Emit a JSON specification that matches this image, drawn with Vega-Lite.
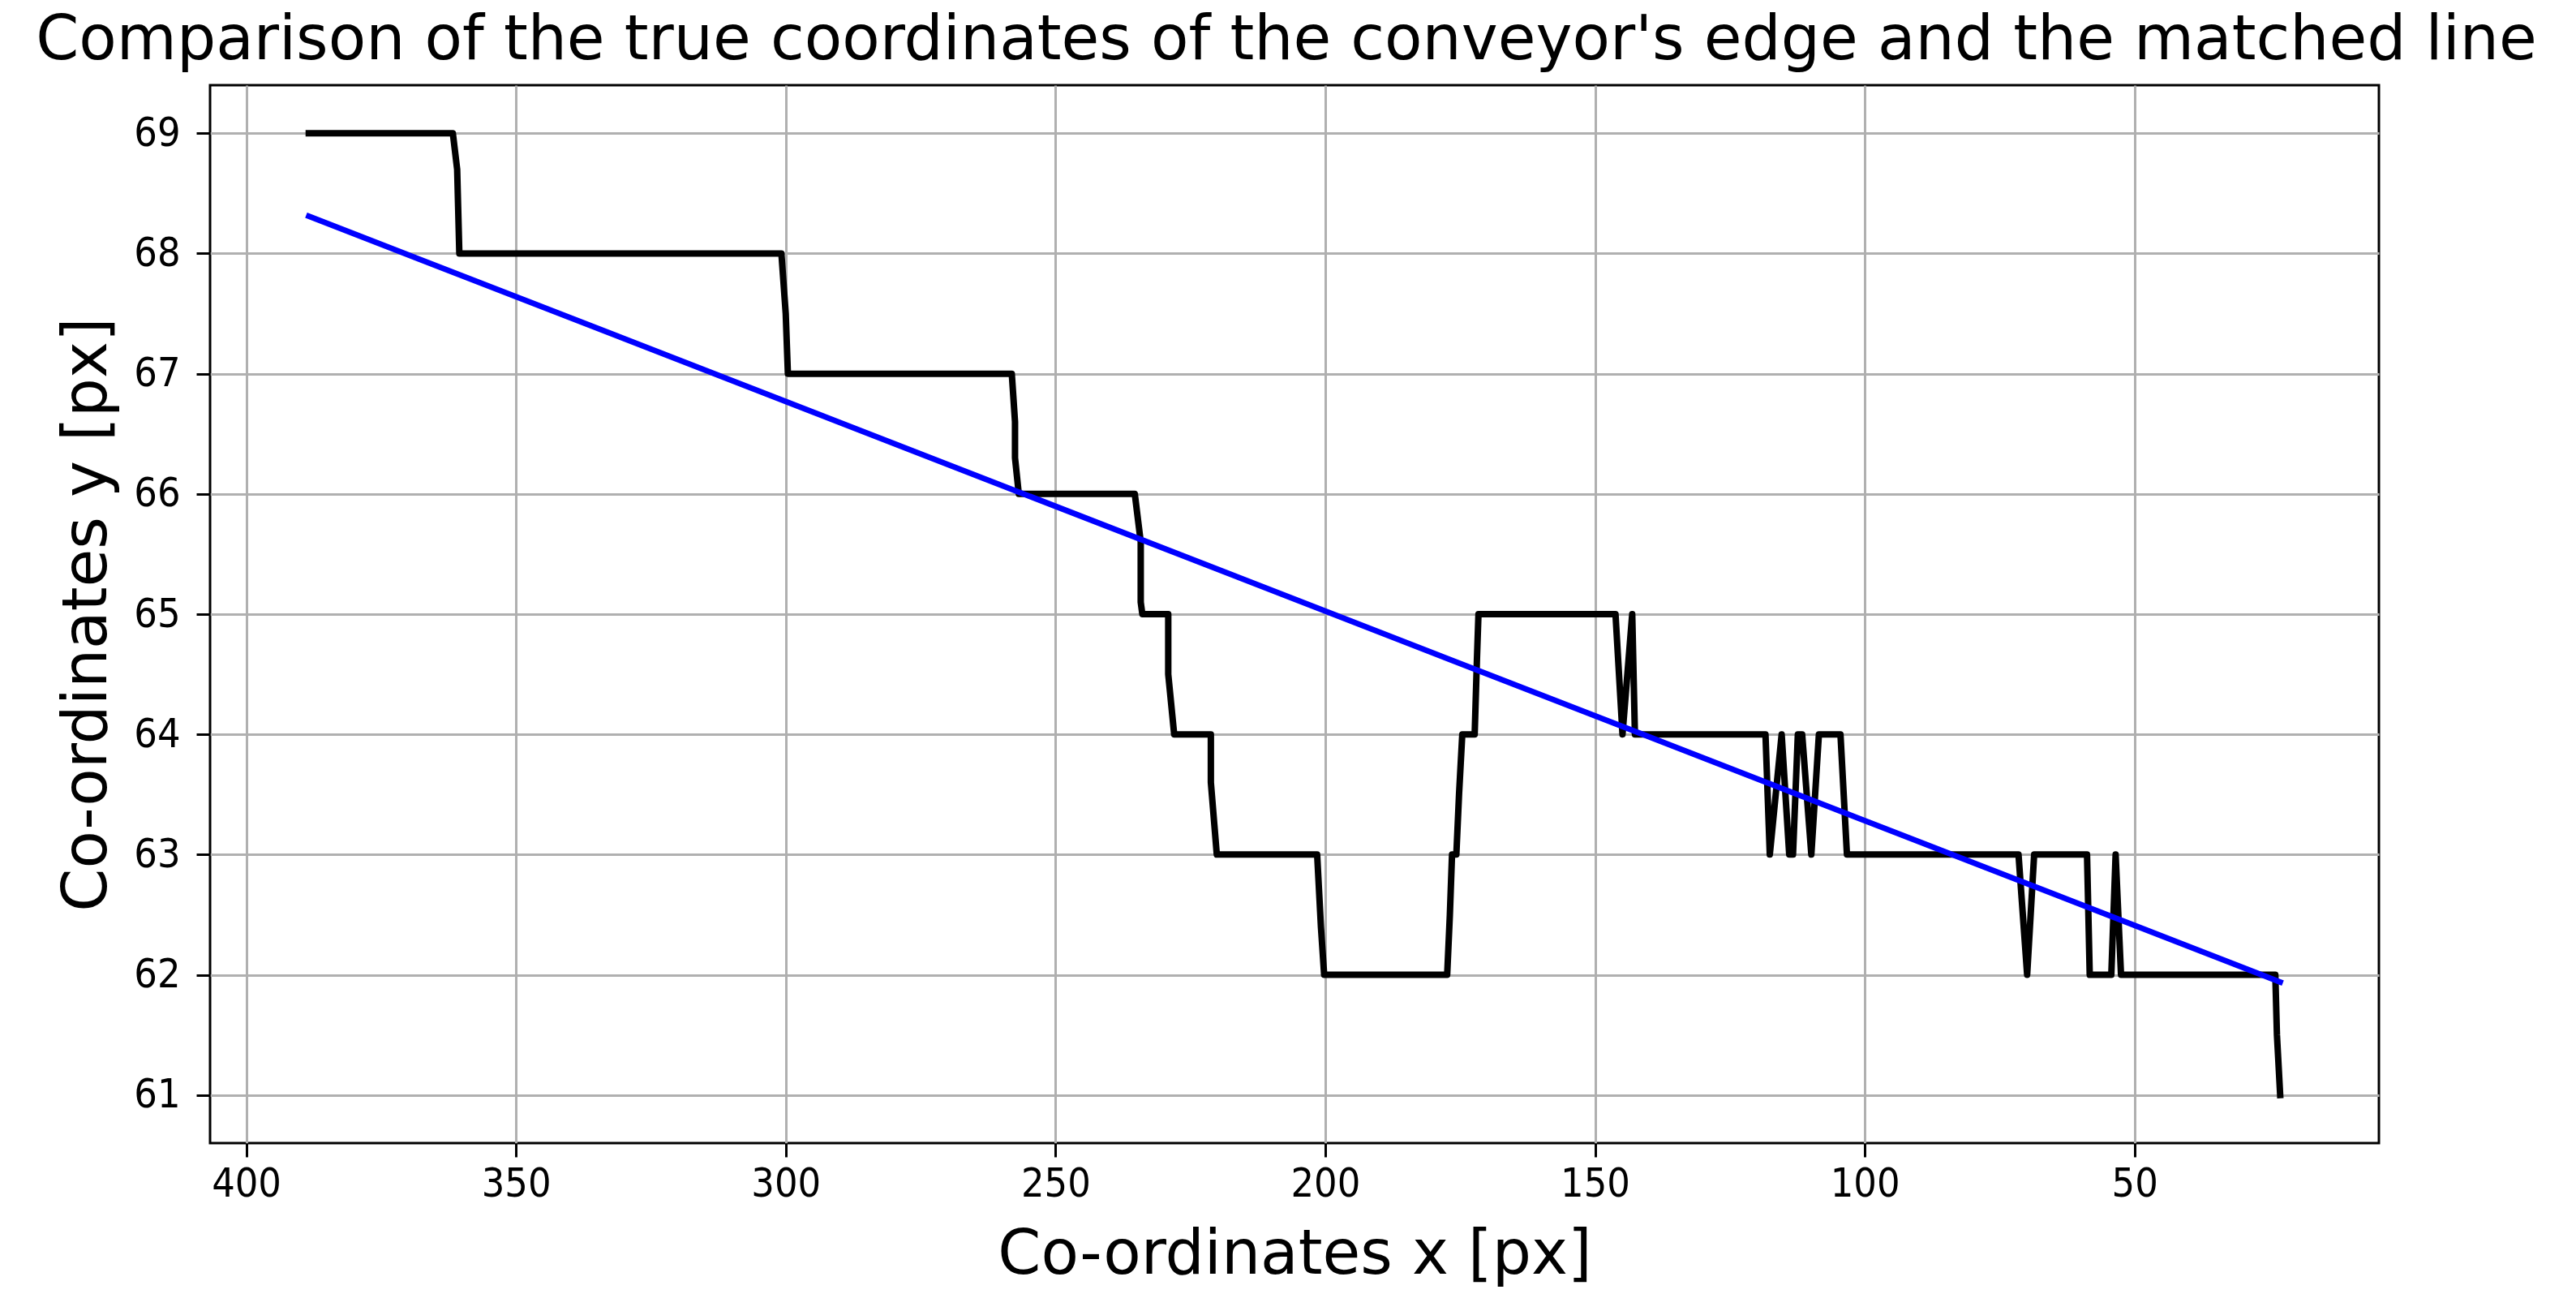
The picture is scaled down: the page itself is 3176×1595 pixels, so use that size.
{
  "$schema": "https://vega.github.io/schema/vega-lite/v6.json",
  "width": 2674,
  "height": 1304,
  "autosize": {"type": "none"},
  "padding": {"left": 259, "top": 105, "right": 243, "bottom": 186},
  "background": "white",
  "title": {
    "text": "Comparison of the true coordinates of the conveyor's edge and the matched line",
    "font": "DejaVu Sans",
    "fontSize": 76,
    "fontWeight": "normal",
    "color": "black",
    "anchor": "middle",
    "baseline": "alphabetic",
    "offset": -44,
    "frame": "group",
    "dx": -10
  },
  "config": {
    "view": {"stroke": "black", "strokeWidth": 3},
    "axis": {
      "domain": false,
      "grid": true,
      "gridColor": "#b0b0b0",
      "gridWidth": 3,
      "tickColor": "black",
      "tickWidth": 3,
      "tickSize": 17,
      "labelFont": "DejaVu Sans Condensed, DejaVu Sans",
      "labelFontSize": 50,
      "labelColor": "black",
      "titleFont": "DejaVu Sans",
      "titleFontSize": 76,
      "titleFontWeight": "normal",
      "titleColor": "black"
    }
  },
  "datasets": {
    "edge": [
      {"i": 1, "x": 388.4, "y": 69},
      {"i": 2, "x": 361.7, "y": 69},
      {"i": 3, "x": 360.9, "y": 68.7},
      {"i": 4, "x": 360.5, "y": 68},
      {"i": 5, "x": 300.8, "y": 68},
      {"i": 6, "x": 300.0, "y": 67.5},
      {"i": 7, "x": 299.6, "y": 67},
      {"i": 8, "x": 258.1, "y": 67},
      {"i": 9, "x": 257.5, "y": 66.6},
      {"i": 10, "x": 257.5, "y": 66.3},
      {"i": 11, "x": 256.8, "y": 66},
      {"i": 12, "x": 235.3, "y": 66},
      {"i": 13, "x": 234.2, "y": 65.6},
      {"i": 14, "x": 234.2, "y": 65.1},
      {"i": 15, "x": 233.9, "y": 65},
      {"i": 16, "x": 229.1, "y": 65},
      {"i": 17, "x": 229.1, "y": 64.5},
      {"i": 18, "x": 228.0, "y": 64},
      {"i": 19, "x": 221.2, "y": 64},
      {"i": 20, "x": 221.2, "y": 63.6},
      {"i": 21, "x": 220.1, "y": 63},
      {"i": 22, "x": 201.5, "y": 63},
      {"i": 23, "x": 200.8, "y": 62.4},
      {"i": 24, "x": 200.2, "y": 62},
      {"i": 25, "x": 177.4, "y": 62},
      {"i": 26, "x": 176.9, "y": 62.5},
      {"i": 27, "x": 176.5, "y": 63},
      {"i": 28, "x": 175.7, "y": 63},
      {"i": 29, "x": 175.2, "y": 63.5},
      {"i": 30, "x": 174.6, "y": 64},
      {"i": 31, "x": 172.3, "y": 64},
      {"i": 32, "x": 171.9, "y": 64.6},
      {"i": 33, "x": 171.6, "y": 65},
      {"i": 34, "x": 146.2, "y": 65},
      {"i": 35, "x": 144.9, "y": 64},
      {"i": 36, "x": 143.1, "y": 65},
      {"i": 37, "x": 142.6, "y": 64},
      {"i": 38, "x": 118.4, "y": 64},
      {"i": 39, "x": 117.6, "y": 63},
      {"i": 40, "x": 115.4, "y": 64},
      {"i": 41, "x": 114.0, "y": 63},
      {"i": 42, "x": 113.3, "y": 63},
      {"i": 43, "x": 112.4, "y": 64},
      {"i": 44, "x": 111.6, "y": 64},
      {"i": 45, "x": 109.9, "y": 63},
      {"i": 46, "x": 108.5, "y": 64},
      {"i": 47, "x": 104.5, "y": 64},
      {"i": 48, "x": 103.3, "y": 63},
      {"i": 49, "x": 71.5, "y": 63},
      {"i": 50, "x": 69.9, "y": 62},
      {"i": 51, "x": 68.6, "y": 63},
      {"i": 52, "x": 58.8, "y": 63},
      {"i": 53, "x": 58.3, "y": 62},
      {"i": 54, "x": 54.3, "y": 62},
      {"i": 55, "x": 53.5, "y": 63},
      {"i": 56, "x": 52.5, "y": 62},
      {"i": 57, "x": 23.9, "y": 62},
      {"i": 58, "x": 23.6, "y": 61.5},
      {"i": 59, "x": 23.0, "y": 61}
    ],
    "fit": [
      {"i": 1, "x": 388.4, "y": 68.31},
      {"i": 2, "x": 23.0, "y": 61.94}
    ]
  },
  "layer": [
    {
      "data": {"name": "edge"},
      "mark": {"type": "line", "color": "black", "strokeWidth": 8, "strokeCap": "square", "strokeJoin": "round"},
      "encoding": {
        "x": {
          "field": "x", "type": "quantitative",
          "scale": {"domain": [4.7, 406.7], "reverse": true, "nice": false, "zero": false},
          "axis": {"values": [400, 350, 300, 250, 200, 150, 100, 50], "format": "d", "title": "Co-ordinates x [px]", "labelPadding": 8, "titleY": 160, "titleBaseline": "alphabetic"}
        },
        "y": {
          "field": "y", "type": "quantitative",
          "scale": {"domain": [60.6, 69.4], "nice": false, "zero": false},
          "axis": {"values": [61, 62, 63, 64, 65, 66, 67, 68, 69], "format": "d", "title": "Co-ordinates y [px]", "labelPadding": 20, "titleX": -129, "titleBaseline": "alphabetic"}
        },
        "order": {"field": "i"}
      }
    },
    {
      "data": {"name": "fit"},
      "mark": {"type": "line", "color": "#0000ff", "strokeWidth": 7, "strokeCap": "square"},
      "encoding": {
        "x": {"field": "x", "type": "quantitative"},
        "y": {"field": "y", "type": "quantitative"},
        "order": {"field": "i"}
      }
    }
  ]
}
